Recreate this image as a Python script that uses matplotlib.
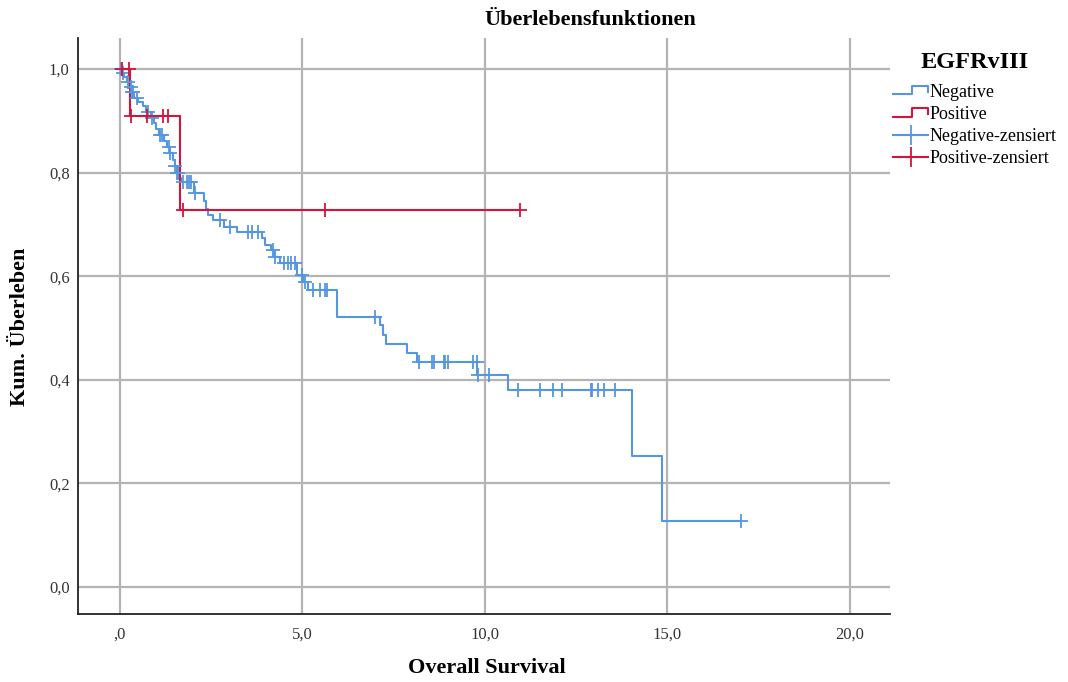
import numpy as np
import matplotlib
matplotlib.use("Agg")
import matplotlib.pyplot as plt
from matplotlib.lines import Line2D
from matplotlib.legend_handler import HandlerBase

plt.rcParams['font.family'] = ['Liberation Serif', 'DejaVu Serif']

# Kaplan-Meier Daten
neg_event_t = [0.05, 0.12, 0.20, 0.25, 0.30, 0.38, 0.50, 0.62, 0.72, 0.85, 0.92, 1.00,
               1.08, 1.20, 1.30, 1.36, 1.45, 1.50, 1.55, 1.62, 1.68, 2.02, 2.30, 2.35,
               2.40, 2.55, 2.85, 3.20, 3.88, 3.97, 4.15, 4.22, 4.38, 4.86, 5.02, 5.16,
               5.94, 7.12, 7.20, 7.30, 7.86, 8.14, 9.78, 10.62, 14.04, 14.84]
neg_event_s = [0.993, 0.985, 0.975, 0.965, 0.955, 0.945, 0.937, 0.928, 0.918, 0.905, 0.895, 0.885,
               0.873, 0.862, 0.850, 0.838, 0.825, 0.812, 0.800, 0.790, 0.782, 0.760, 0.745, 0.730,
               0.718, 0.708, 0.696, 0.686, 0.673, 0.660, 0.650, 0.638, 0.625, 0.602, 0.589, 0.573,
               0.521, 0.505, 0.487, 0.469, 0.452, 0.434, 0.409, 0.380, 0.253, 0.128]
neg_censor_t = [0.02, 0.09, 0.23, 0.29, 0.32, 0.36, 0.46, 0.78, 0.87, 1.10, 1.14, 1.35, 1.37,
                1.51, 1.55, 1.60, 1.73, 1.83, 1.90, 1.96, 2.06, 2.74, 3.01, 3.52, 3.61, 3.79,
                4.19, 4.24, 4.50, 4.61, 4.70, 4.79, 5.00, 5.07, 5.30, 5.48, 5.62, 5.68, 6.99,
                8.20, 8.54, 8.60, 8.88, 8.92, 8.98, 9.66, 9.77, 9.80, 10.10, 10.91, 11.51,
                11.87, 12.10, 12.90, 12.94, 13.10, 13.26, 13.56, 17.01]

pos_event_t = [0.28, 1.65]
pos_event_s = [0.909, 0.727]
pos_censor_t = [0.05, 0.25, 0.30, 0.73, 1.19, 1.32, 1.72, 5.62, 10.96]

blue = '#5596e0'
red = '#d4143c'


def curve(event_t, event_s, censor_t):
    t = np.r_[0.0, event_t]
    s = np.r_[1.0, event_s]
    end = max(max(censor_t), t[-1])
    xs = np.r_[t, end]
    ys = np.r_[s, s[-1]]
    idx = np.searchsorted(t, censor_t, side='right') - 1
    return xs, ys, np.asarray(censor_t), s[idx]


class HandlerStep(HandlerBase):
    def create_artists(self, legend, orig_handle, xdescent, ydescent, width, height, fontsize, trans):
        x0, y0 = -xdescent, -ydescent
        xs = [x0, x0 + 0.55 * width, x0 + 0.55 * width, x0 + width, x0 + width]
        ys = [y0 + 0.2 * height, y0 + 0.2 * height, y0 + 0.85 * height, y0 + 0.85 * height, y0 + 0.4 * height]
        ln = Line2D(xs, ys, color=orig_handle.get_color(), lw=orig_handle.get_linewidth(), transform=trans)
        return [ln]


fig = plt.figure(figsize=(10.68, 6.82), dpi=100)
ax = fig.add_axes([78 / 1068, 1 - 614 / 682, (890 - 78) / 1068, (614 - 38) / 682])

for et, es, ct, col in [(neg_event_t, neg_event_s, neg_censor_t, blue),
                        (pos_event_t, pos_event_s, pos_censor_t, red)]:
    xs, ys, cx, cy = curve(et, es, ct)
    ax.step(xs, ys, where='post', color=col, lw=1.5, zorder=3)
    ax.plot(cx, cy, ls='none', marker='+', ms=10, mew=1.3, color=col, zorder=4)

ax.set_xlim(-1.15, 21.1)
ax.set_ylim(-0.052, 1.06)
ax.set_xticks([0, 5, 10, 15, 20])
ax.set_xticklabels([',0', '5,0', '10,0', '15,0', '20,0'])
ax.set_yticks([0, 0.2, 0.4, 0.6, 0.8, 1.0])
ax.set_yticklabels(['0,0', '0,2', '0,4', '0,6', '0,8', '1,0'])
ax.tick_params(axis='y', length=0, labelsize=12, pad=6, colors='#333333')
ax.tick_params(axis='x', length=0, labelsize=12, pad=9, colors='#333333')
ax.grid(True, color='#b4b4b4', lw=1.6)
ax.set_axisbelow(True)
for side in ['top', 'right']:
    ax.spines[side].set_visible(False)
for side in ['left', 'bottom']:
    ax.spines[side].set_color('#222222')
    ax.spines[side].set_linewidth(1.3)

fig.text(487 / 1068, 1 - 668 / 682, 'Overall Survival', ha='center', va='center',
         fontsize=16, fontweight='bold')
fig.text(20 / 1068, 1 - 327 / 682, 'Kum. Überleben', ha='center', va='center',
         rotation=90, fontsize=16, fontweight='bold')
fig.text(590 / 1068, 1 - 20 / 682, 'Überlebensfunktionen', ha='center', va='center',
         fontsize=16, fontweight='bold')

# Legende: Titel separat, damit der Abstand wie im Original passt
fig.text(975 / 1068, 1 - 62 / 682, 'EGFRvIII', ha='center', va='center',
         fontsize=17.5, fontweight='bold')
h_neg = Line2D([], [], color=blue, lw=1.5)
h_pos = Line2D([], [], color=red, lw=1.5)
h_negc = Line2D([], [], color=blue, lw=1.5, marker='+', ms=14, mew=1.3)
h_posc = Line2D([], [], color=red, lw=1.5, marker='+', ms=14, mew=1.3)
leg = fig.legend([h_neg, h_pos, h_negc, h_posc],
                 ['Negative', 'Positive', 'Negative-zensiert', 'Positive-zensiert'],
                 handler_map={h_neg: HandlerStep(), h_pos: HandlerStep()},
                 loc='upper left', bbox_to_anchor=(893 / 1068, 1 - 84 / 682),
                 frameon=False, fontsize=13,
                 handlelength=1.95, handletextpad=0.1, labelspacing=0.28,
                 borderaxespad=0, borderpad=0)

fig.savefig('out.png', dpi=100)
